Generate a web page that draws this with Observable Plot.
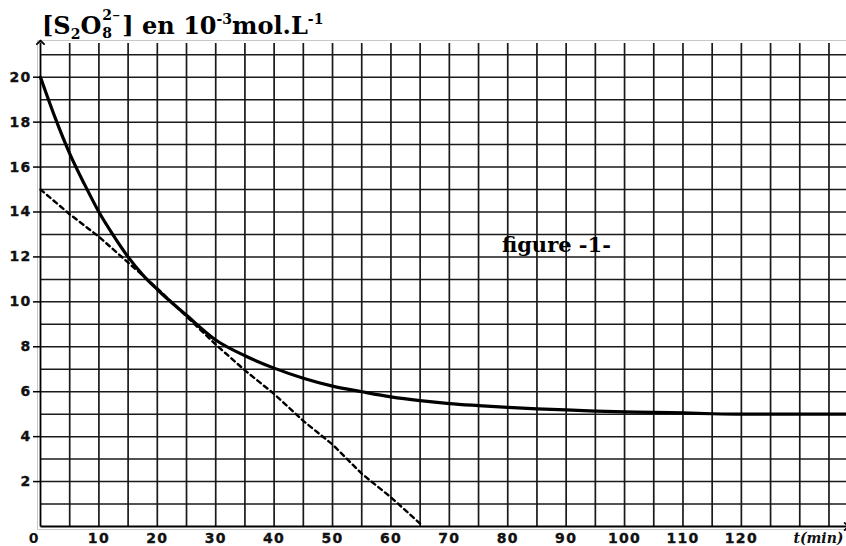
<!DOCTYPE html>
<html>
<head>
<meta charset="utf-8">
<script src="https://cdn.jsdelivr.net/npm/d3@7"></script>
<script src="https://cdn.jsdelivr.net/npm/@observablehq/plot@0.6"></script>
<style>
  html, body { margin: 0; padding: 0; background: #fff; }
  #wrap { position: relative; width: 846px; height: 546px; overflow: hidden; }
  #title {
    position: absolute; left: 42px; top: 14px; white-space: nowrap;
    font-family: "DejaVu Serif", serif; font-weight: bold; font-size: 24px; line-height: 24px; color: #000;
  }
  #title .sub { position: relative; top: 5px; font-size: 14px; }
  #title .sup { position: relative; top: -10px; font-size: 14px; }
  #title .stack { display: inline-block; position: relative; width: 21px; height: 0; }
  #title .stack .up { position: absolute; left: 1px; top: -26px; font-size: 14px; line-height: 14px; white-space: nowrap; }
  #title .stack .up .minus { font-size: 10px; position: relative; top: -1px; }
  #title .stack .dn { position: absolute; left: 1px; top: -8px; font-size: 14px; line-height: 14px; }
  #chart { position: absolute; left: 0; top: 40px; }
  g[aria-label$="tick label"] text, g[aria-label="zero label"] text { letter-spacing: 1.3px; stroke: #111; stroke-width: 0.35px; }
</style>
</head>
<body>
<div id="wrap">
  <div id="title">[S<span class="sub">2</span>O<span class="stack"><span class="up">2<span class="minus">−</span></span><span class="dn">8</span></span>] en 10<span class="sup">-3</span>mol.L<span class="sup">-1</span></div>
  <div id="chart"></div>
</div>
<script>
// Curve: [S2O8 2-] (10^-3 mol/L) vs t (min)
const times = [0, 2.5, 5, 7.5, 10, 12.5, 15, 17.5, 20, 25, 30, 35, 40, 45, 50, 55, 60, 65, 70, 75, 80, 85, 90, 95, 100, 110, 115, 120, 138];
const concentration = [20, 18.2, 16.6, 15.25, 14.0, 12.95, 12.0, 11.2, 10.55, 9.4, 8.3, 7.6, 7.05, 6.6, 6.25, 6.0, 5.77, 5.6, 5.47, 5.38, 5.3, 5.24, 5.19, 5.14, 5.1, 5.06, 5.02, 5.0, 5.0];

// Tangent at t = 0 (dashed)
const tangentTimes = [0, 5, 10, 15, 20, 25, 30, 35, 40, 45, 50, 55, 60, 65];
const tangentValues = [15, 13.9, 12.9, 11.75, 10.6, 9.35, 8.1, 6.95, 5.9, 4.7, 3.65, 2.35, 1.3, 0.13];

// Grid and ticks
const xGrid = d3.range(5, 140, 5);
const yGrid = d3.range(1, 22, 1);
const xTickLabels = [10, 20, 30, 40, 50, 60, 70, 80, 90, 100, 110, 120];
const yTickLabels = [2, 4, 6, 8, 10, 12, 14, 16, 18, 20];
const xAxisLabel = "t(min)";
const annotation = [{t: 79, c: 12.2, text: "figure -1-"}];

const xDomain = [0, 138];
const yDomain = [0, 21.5];

const curve = times.map((t, i) => ({t, c: concentration[i]}));
const tangent = tangentTimes.map((t, i) => ({t, c: tangentValues[i]}));
const axes = [
  {x1: 0, y1: 0, x2: xDomain[1], y2: 0},
  {x1: 0, y1: 0, x2: 0, y2: yDomain[1] + 0.05}
];

const gridColor = "#1a1a1a";
const tickFont = {fontFamily: "DejaVu Sans", fontWeight: "bold", fontSize: 14, fill: "#111"};

const plot = Plot.plot({
  width: 846,
  height: 506,
  marginLeft: 40,
  marginRight: 0,
  marginTop: 3,
  marginBottom: 20,
  x: {domain: xDomain},
  y: {domain: yDomain},
  style: {background: "transparent", color: "#000", overflow: "visible",
    fontFamily: "DejaVu Sans", fontWeight: "bold", fontSize: "14px"},
  marks: [
    Plot.frame({inset: -3, stroke: "#c8c8c8", strokeWidth: 1}),
    Plot.ruleX(xGrid, {stroke: gridColor, strokeWidth: 1.7}),
    Plot.ruleY(yGrid, {stroke: gridColor, strokeWidth: 1.5}),
    Plot.link(axes, {x1: "x1", y1: "y1", x2: "x2", y2: "y2", stroke: "#000", strokeWidth: 1.8, markerEnd: "arrow"}),
    Plot.axisY(yTickLabels, {tickSize: 7, tickPadding: 2, label: null, stroke: "#000", strokeWidth: 1.5, ...tickFont}),
    Plot.axisX(xTickLabels, {tickSize: 0, tickPadding: 7, label: null, ...tickFont}),
    Plot.text([0], {x: d => d, y: 0, text: d => String(d), dx: -7, dy: 7, lineAnchor: "top", ariaLabel: "zero label", ...tickFont}),
    Plot.text([xAxisLabel], {x: xDomain[1], y: 0, text: d => d, textAnchor: "end", dx: -3, dy: 7, lineAnchor: "top",
      fontFamily: "DejaVu Serif", fontWeight: "bold", fontStyle: "italic", fontSize: 14, fill: "#111"}),
    Plot.line(tangent, {x: "t", y: "c", stroke: "#000", strokeWidth: 2.4, strokeDasharray: "4.5,4"}),
    Plot.line(curve, {x: "t", y: "c", curve: "monotone-x", stroke: "#000", strokeWidth: 3.2}),
    Plot.text(annotation, {x: "t", y: "c", text: "text", textAnchor: "start", lineAnchor: "bottom",
      fontFamily: "DejaVu Serif", fontWeight: "bold", fontSize: 21, fill: "#000"})
  ]
});
document.getElementById("chart").appendChild(plot);
</script>
</body>
</html>
